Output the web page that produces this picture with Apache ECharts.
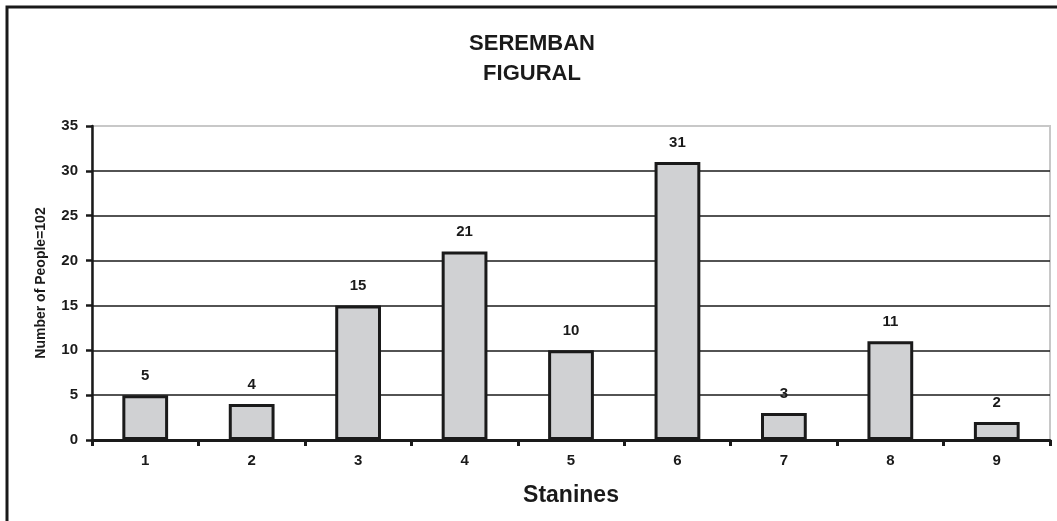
<!DOCTYPE html>
<html><head><meta charset="utf-8">
<script src="https://cdn.jsdelivr.net/npm/echarts@6/dist/echarts.min.js"></script>
<style>html,body{margin:0;padding:0;background:#fff}#c{width:1057px;height:521px}</style>
</head><body><div id="c"></div>
<script>
const categories = ['1','2','3','4','5','6','7','8','9'];
const values = [5,4,15,21,10,31,3,11,2];
const yTicks = [0,5,10,15,20,25,30,35];
const chart = echarts.init(document.getElementById('c'), null, {renderer:'canvas'});
const F = 'Liberation Sans, Arial, sans-serif';
chart.setOption({
  animation:false,
  backgroundColor:'#fff',
  graphic:[{type:'rect',shape:{x:7,y:7,width:1100,height:600},style:{fill:'none',stroke:'#1a1a1a',lineWidth:3},z:100}],
  title:{text:'SEREMBAN\nFIGURAL',left:527,textAlign:'center',top:24,textStyle:{fontFamily:F,fontWeight:'bold',fontSize:22,color:'#1a1a1a',lineHeight:30}},
  grid:{left:92,top:126,right:7,bottom:81,show:true,borderColor:'#c8c8c8',borderWidth:2},
  xAxis:{type:'category',data:categories,
    axisLine:{lineStyle:{color:'#1a1a1a',width:3}},
    axisTick:{show:true,length:6,lineStyle:{color:'#1a1a1a',width:3}},
    axisLabel:{fontFamily:F,fontWeight:'bold',fontSize:15,color:'#1a1a1a',margin:13},
    name:'Stanines',nameLocation:'middle',nameGap:44,
    nameTextStyle:{fontFamily:F,fontWeight:'bold',fontSize:23,color:'#1a1a1a'}},
  yAxis:{type:'value',min:0,max:35,interval:5,
    axisLine:{show:true,lineStyle:{color:'#1a1a1a',width:2.5}},
    axisTick:{show:true,length:6,lineStyle:{color:'#1a1a1a',width:2.5}},
    axisLabel:{fontFamily:F,fontWeight:'bold',fontSize:15,color:'#1a1a1a',margin:14,
      formatter:v=>yTicks.includes(v)?String(v):''},
    splitLine:{show:true,lineStyle:{color:['#1a1a1a','#1a1a1a','#1a1a1a','#1a1a1a','#1a1a1a','#1a1a1a','#1a1a1a','#c8c8c8'],width:1.5}},
    name:'Number of People=102',nameLocation:'middle',nameGap:44,
    nameTextStyle:{fontFamily:F,fontWeight:'bold',fontSize:14,color:'#1a1a1a'}},
  series:[{type:'bar',data:values,barWidth:'43%',
    itemStyle:{color:'#d0d1d3',borderColor:'#1a1a1a',borderWidth:3},
    label:{show:true,position:'top',distance:12,fontFamily:F,fontWeight:'bold',fontSize:15,color:'#1a1a1a'}}]
});
</script></body></html>
